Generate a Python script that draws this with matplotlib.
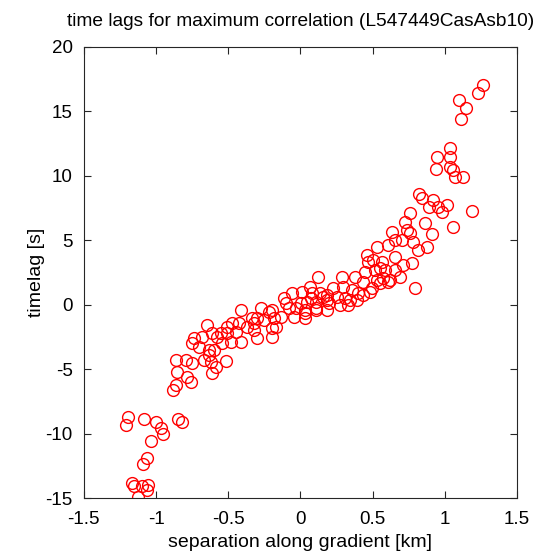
import matplotlib
matplotlib.use("Agg")
import matplotlib.pyplot as plt

plt.rcParams['font.family'] = ['Liberation Sans', 'DejaVu Sans']

# separation along gradient [km]
sep_km = [
    # steep lower tail
    -1.194, -1.208, -1.083, -1.000, -0.965, -0.951, -0.847, -0.819, -1.035,
    -1.063, -1.090, -1.167, -1.153, -1.097, -1.056, -1.063, -1.125,
    # lower branch
    -0.646, -0.507, -0.549, -0.576, -0.736, -0.681, -0.750, -0.701, -0.632,
    -0.597, -0.542, -0.667, -0.618, -0.583, -0.611, -0.514, -0.861, -0.792,
    -0.750, -0.854, -0.785, -0.757, -0.861, -0.882, -0.611, -0.632,
    # central band
    -0.333, -0.319, -0.299, -0.250, -0.410, -0.271, -0.194, -0.215, -0.132,
    -0.181, -0.472, -0.424, -0.444, -0.410, -0.479, -0.319, -0.299, -0.194,
    -0.194, 0.118, 0.063, 0.014, -0.056, -0.111, -0.097, 0.083, 0.132, 0.181,
    0.007, 0.042, 0.111, 0.181, -0.028, 0.028, 0.111, -0.042, 0.028,
    -0.167, -0.076, 0.028, -0.507, -0.368, 0.076, 0.153, 0.111, 0.181,
    # upper branch
    0.722, 0.861, 1.056, 0.632, 0.736, 0.757, 0.910, 0.653, 0.701, 0.778,
    0.875, 0.813, 0.528, 0.604, 0.458, 0.500, 0.653, 0.708, 0.771, 0.563,
    0.549, 0.583, 0.653, 0.688, 0.444, 0.514, 0.285, 0.375, 0.431, 0.528,
    0.569, 0.604, 0.493, 0.431, 0.792, 0.222, 0.292, 0.354, 0.250, 0.306,
    0.201, 0.271, 0.326, 0.396, 0.618, 0.549, 0.479, 0.340, 0.389, 0.465,
    # steep upper tail
    1.264, 1.229, 1.097, 1.146, 1.111, 1.035, 1.035, 0.944, 0.938, 1.035,
    1.056, 1.069, 1.125, 0.819, 0.840, 0.917, 0.889, 0.951, 1.014, 0.979,
    1.188, 0.757,
]

# time lag at maximum correlation [s]
lag_s = [
    -8.71, -9.33, -8.87, -9.10, -9.57, -10.04, -8.87, -9.10, -10.60,
    -11.90, -12.40, -13.80, -14.10, -14.10, -14.00, -14.40, -14.90,
    -1.58, -1.73, -2.20, -2.51, -2.59, -2.51, -2.97, -3.28, -3.52,
    -3.52, -2.97, -4.30, -4.46, -4.83, -5.30, -4.37, -4.30, -4.30,
    -4.52, -5.22, -5.61, -6.00, -6.23, -6.62, -2.20, -3.90,
    -1.03, -1.42, -1.03, -1.19, -0.41, -0.26, -0.41, -0.57, -0.95,
    -1.03, -1.42, -1.42, -2.12, -2.89, -2.89, -1.96, -2.58, -2.51,
    -1.81, 2.15, 1.37, 0.99, 0.91, 0.52, 0.13, 0.91, 0.91, 0.75,
    0.13, 0.21, 0.21, 0.36, -0.26, -0.41, -0.41, -0.95, -1.03,
    -1.73, -0.26, -0.64, -2.20, -1.73, 0.52, 0.60, -0.26, -0.41,
    6.42, 6.34, 6.03, 5.64, 5.80, 5.56, 5.48, 5.02, 5.02, 4.87,
    4.48, 4.25, 4.48, 4.63, 3.86, 3.47, 3.70, 3.08, 3.24, 3.31,
    2.85, 2.69, 2.69, 2.15, 2.54, 2.69, 2.15, 2.15, 1.76, 1.92,
    2.07, 1.76, 1.30, 0.75, 1.30, 1.30, 1.37, 1.14, 0.60, 0.52,
    0.13, -0.02, -0.02, 0.91, 1.92, 1.68, 0.99, 0.36, 0.36, 3.31,
    17.05, 16.43, 15.89, 15.26, 14.41, 12.16, 11.46, 11.46, 10.53, 10.69,
    10.45, 9.91, 9.91, 8.59, 8.28, 8.13, 7.58, 7.58, 7.74, 7.19,
    7.27, 7.12,
]

x_ticks = [-1.5, -1, -0.5, 0, 0.5, 1, 1.5]
x_tick_labels = ['-1.5', '-1', '-0.5', '0', '0.5', '1', '1.5']
y_ticks = [-15, -10, -5, 0, 5, 10, 15, 20]
y_tick_labels = ['-15', '-10', '-5', '0', '5', '10', '15', '20']

fig = plt.figure(figsize=(5.59, 5.58), dpi=100)
ax = fig.add_axes([0.150, 0.1075, 0.775, 0.809])

ax.plot(sep_km, lag_s, linestyle='none', marker='o', markersize=8.5,
        markerfacecolor='none', markeredgecolor='#ff0000', markeredgewidth=1.0)

ax.set_xlim(-1.5, 1.5)
ax.set_ylim(-15, 20)
ax.set_xticks(x_ticks)
ax.set_xticklabels(x_tick_labels)
ax.set_yticks(y_ticks)
ax.set_yticklabels(y_tick_labels)
ax.tick_params(direction='in', top=True, right=True, length=5, width=0.8,
               labelsize=13.5, colors='#262626', labelcolor='black')
ax.tick_params(axis='x', pad=9)
ax.tick_params(axis='y', pad=8)
for s in ax.spines.values():
    s.set_linewidth(0.8)
    s.set_color('#262626')

ax.set_xlabel('separation along gradient [km]', fontsize=14, labelpad=5)
ax.set_ylabel('timelag [s]', fontsize=14, labelpad=0)
ax.set_title('time lags for maximum correlation (L547449CasAsb10)', fontsize=13.8, pad=15)

fig.savefig('out.png', dpi=100)
